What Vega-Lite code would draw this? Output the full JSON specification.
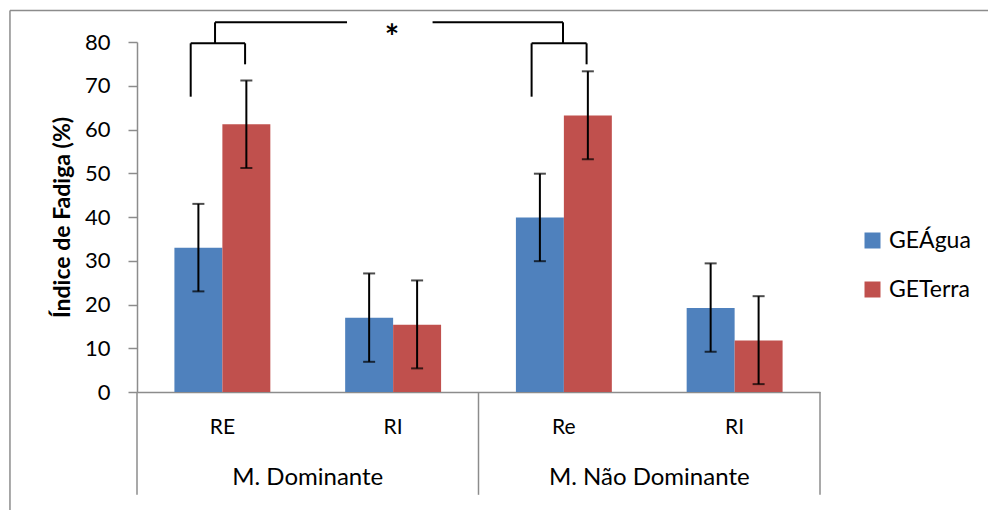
{
  "$schema": "https://vega.github.io/schema/vega-lite/v6.json",
  "width": 683,
  "height": 350,
  "autosize": {"type": "none"},
  "padding": {"left": 137, "top": 42, "right": 168, "bottom": 118},
  "background": "white",
  "config": {"font": "Lato", "view": {"stroke": null}, "axis": {"grid": false}},
  "datasets": {
    "bars": [
      {"cat": "D-RE", "grupo": "GEÁgua", "valor": 33.0, "lo": 23.0, "hi": 43.0},
      {"cat": "D-RE", "grupo": "GETerra", "valor": 61.2, "lo": 51.2, "hi": 71.2},
      {"cat": "D-RI", "grupo": "GEÁgua", "valor": 17.0, "lo": 6.9, "hi": 27.1},
      {"cat": "D-RI", "grupo": "GETerra", "valor": 15.4, "lo": 5.4, "hi": 25.5},
      {"cat": "ND-Re", "grupo": "GEÁgua", "valor": 39.9, "lo": 29.9, "hi": 49.9},
      {"cat": "ND-Re", "grupo": "GETerra", "valor": 63.2, "lo": 53.2, "hi": 73.3},
      {"cat": "ND-RI", "grupo": "GEÁgua", "valor": 19.2, "lo": 9.2, "hi": 29.4},
      {"cat": "ND-RI", "grupo": "GETerra", "valor": 11.8, "lo": 1.8, "hi": 21.9}
    ],
    "brackets": [
      {"x1": 0.3145, "x2": 0.3145, "y1": 67.5, "y2": 79.7},
      {"x1": 0.3145, "x2": 0.633, "y1": 79.7, "y2": 79.7},
      {"x1": 0.633, "x2": 0.633, "y1": 74.9, "y2": 79.7},
      {"x1": 0.457, "x2": 0.457, "y1": 79.7, "y2": 84.5},
      {"x1": 0.457, "x2": 1.23, "y1": 84.5, "y2": 84.5},
      {"x1": 1.731, "x2": 2.495, "y1": 84.5, "y2": 84.5},
      {"x1": 2.495, "x2": 2.495, "y1": 79.7, "y2": 84.5},
      {"x1": 2.311, "x2": 2.633, "y1": 79.7, "y2": 79.7},
      {"x1": 2.311, "x2": 2.311, "y1": 67.5, "y2": 79.7},
      {"x1": 2.633, "x2": 2.633, "y1": 74.9, "y2": 79.7}
    ],
    "gray": [
      {"x1": 0, "x2": 0, "y1": 0, "y2": -23.5},
      {"x1": 2, "x2": 2, "y1": 0, "y2": -23.5},
      {"x1": 4, "x2": 4, "y1": 0, "y2": -23.5},
      {"x1": -0.744, "x2": 5.0, "y1": 87.2, "y2": 87.2},
      {"x1": -0.744, "x2": -0.744, "y1": 87.2, "y2": -28}
    ],
    "groups": [
      {"x": 1.0, "y": -19.7, "rotulo": "M. Dominante"},
      {"x": 3.0, "y": -19.7, "rotulo": "M. Não Dominante"}
    ],
    "star": [
      {"x": 1.493, "y": 80.6, "rotulo": "*"}
    ]
  },
  "layer": [
    {
      "data": {"name": "bars"},
      "encoding": {
        "x": {
          "field": "cat", "type": "nominal", "sort": null,
          "scale": {"paddingInner": 0, "paddingOuter": 0},
          "axis": {
            "title": null, "labelExpr": "split(datum.value, '-')[1]", "labelAngle": 0,
            "labelFontSize": 21, "labelColor": "black", "labelPadding": 35, "labelBaseline": "middle",
            "ticks": false, "domainColor": "#8c8c8c", "domainWidth": 1.5
          }
        },
        "xOffset": {"field": "grupo", "type": "nominal", "sort": null, "scale": {"paddingInner": 0, "paddingOuter": 0.78}}
      },
      "layer": [
        {
          "mark": {"type": "bar"},
          "encoding": {
            "y": {
              "field": "valor", "type": "quantitative",
              "scale": {"domain": [0, 80]},
              "axis": {
                "title": "Índice de Fadiga (%)", "titleFontSize": 23, "titleFontWeight": "bold", "titleColor": "black",
                "titlePadding": 10, "values": [0, 10, 20, 30, 40, 50, 60, 70, 80],
                "labelFontSize": 22, "labelColor": "black", "labelPadding": 18,
                "tickSize": 9, "tickColor": "#8c8c8c", "tickWidth": 1.5, "domainColor": "#8c8c8c", "domainWidth": 1.5
              }
            },
            "color": {
              "field": "grupo", "type": "nominal",
              "scale": {"domain": ["GEÁgua", "GETerra"], "range": ["#4F81BD", "#C0504D"]},
              "legend": {
                "title": null, "orient": "none", "legendX": 724, "legendY": 187,
                "symbolType": "square", "symbolSize": 256, "symbolStrokeWidth": 0,
                "labelFontSize": 23, "labelColor": "black", "labelOffset": 5, "rowPadding": 25, "padding": 0
              }
            }
          }
        },
        {
          "mark": {"type": "rule", "color": "black", "strokeWidth": 2},
          "encoding": {
            "y": {"field": "lo", "type": "quantitative", "scale": {"domain": [0, 80]}},
            "y2": {"field": "hi"}
          }
        },
        {
          "mark": {"type": "tick", "color": "black", "thickness": 2, "size": 12, "orient": "horizontal"},
          "encoding": {"y": {"field": "lo", "type": "quantitative", "scale": {"domain": [0, 80]}}}
        },
        {
          "mark": {"type": "tick", "color": "black", "thickness": 2, "size": 12, "orient": "horizontal"},
          "encoding": {"y": {"field": "hi", "type": "quantitative", "scale": {"domain": [0, 80]}}}
        }
      ]
    },
    {
      "layer": [
        {
          "data": {"name": "gray"},
          "mark": {"type": "rule", "color": "#8c8c8c", "strokeWidth": 1.5, "clip": false},
          "encoding": {
            "x": {"field": "x1", "type": "quantitative", "scale": {"domain": [0, 4], "nice": false, "zero": false}, "axis": null},
            "x2": {"field": "x2"},
            "y": {"field": "y1", "type": "quantitative", "scale": {"domain": [0, 80]}, "axis": null},
            "y2": {"field": "y2"}
          }
        },
        {
          "data": {"name": "brackets"},
          "mark": {"type": "rule", "color": "black", "strokeWidth": 2, "clip": false},
          "encoding": {
            "x": {"field": "x1", "type": "quantitative", "scale": {"domain": [0, 4], "nice": false, "zero": false}, "axis": null},
            "x2": {"field": "x2"},
            "y": {"field": "y1", "type": "quantitative", "scale": {"domain": [0, 80]}, "axis": null},
            "y2": {"field": "y2"}
          }
        },
        {
          "data": {"name": "groups"},
          "mark": {"type": "text", "fontSize": 24, "color": "black", "baseline": "middle", "align": "center", "clip": false},
          "encoding": {
            "x": {"field": "x", "type": "quantitative", "scale": {"domain": [0, 4], "nice": false, "zero": false}, "axis": null},
            "y": {"field": "y", "type": "quantitative", "scale": {"domain": [0, 80]}, "axis": null},
            "text": {"field": "rotulo"}
          }
        },
        {
          "data": {"name": "star"},
          "mark": {"type": "text", "fontSize": 34, "fontWeight": "bold", "color": "black", "baseline": "middle", "align": "center", "clip": false},
          "encoding": {
            "x": {"field": "x", "type": "quantitative", "scale": {"domain": [0, 4], "nice": false, "zero": false}, "axis": null},
            "y": {"field": "y", "type": "quantitative", "scale": {"domain": [0, 80]}, "axis": null},
            "text": {"field": "rotulo"}
          }
        }
      ]
    }
  ],
  "resolve": {"scale": {"x": "independent", "y": "independent"}, "axis": {"x": "independent", "y": "independent"}}
}
